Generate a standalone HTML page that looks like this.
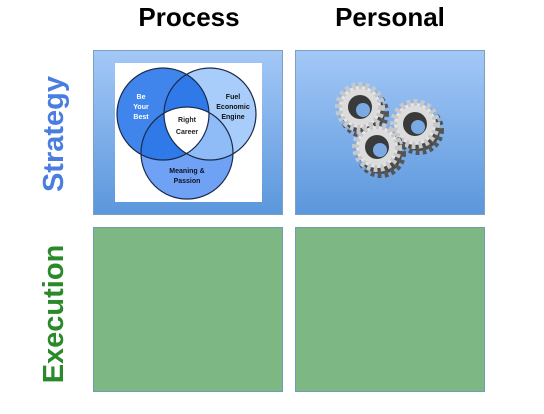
<!DOCTYPE html>
<html><head><meta charset="utf-8"><style>
body{margin:0;width:544px;height:410px;background:#fff;position:relative;overflow:hidden;font-family:"Liberation Sans",sans-serif}
.h{position:absolute;top:2px;font-size:26px;font-weight:bold;color:#000;text-align:center;width:200px}
.v{position:absolute;font-size:29px;font-weight:bold;transform:rotate(-90deg);transform-origin:center;text-align:center;width:200px;height:36px;line-height:36px}
.b{position:absolute;width:190px;height:165px;box-sizing:border-box;border:1px solid #7f9fbf}
.blue{background:linear-gradient(#a3c8f7,#5b97dc);}
.green{background:#7db783;border-color:#6f9fb0}
</style></head><body>
<div class="h" style="left:89px">Process</div>
<div class="h" style="left:290px">Personal</div>
<div class="v" style="left:-46px;top:116px;color:#4a7de0">Strategy</div>
<div class="v" style="left:-46px;top:296px;color:#2a8a2a">Execution</div>
<div class="b blue" style="left:93px;top:50px"></div>
<div class="b blue" style="left:295px;top:50px"></div>
<div class="b green" style="left:93px;top:227px"></div>
<div class="b green" style="left:295px;top:227px"></div>
<svg width="544" height="410" style="position:absolute;left:0;top:0">
<defs>
<clipPath id="cl"><circle cx="163" cy="114" r="46"/></clipPath>
<clipPath id="cr"><circle cx="210" cy="114" r="46"/></clipPath>
<g id="gear">
<circle cx="4" cy="6" r="21" fill="#4a4a4a" stroke="#555" stroke-width="8" stroke-dasharray="3.5 3"/>
<circle r="21" fill="#e6e6e6" stroke="#c8c8c8" stroke-width="8" stroke-dasharray="3.5 3"/>
<circle r="18" fill="#dcdcdc"/>
<circle r="12" fill="#3a3a3a"/>
<circle r="7" cx="3" cy="3" fill="#7aaae4"/></g>
</defs>
<rect x="115" y="63" width="147" height="139" fill="#fff"/>
<circle cx="163" cy="114" r="46" fill="#3f85ec"/>
<circle cx="210" cy="114" r="46" fill="#a9cdfa"/>
<circle cx="187" cy="153" r="46" fill="#6fa2f5"/>
<circle cx="210" cy="114" r="46" fill="#2f7ae8" clip-path="url(#cl)"/>
<circle cx="187" cy="153" r="46" fill="#2f7ae8" clip-path="url(#cl)"/>
<circle cx="187" cy="153" r="46" fill="#8fbcf6" clip-path="url(#cr)"/>
<g clip-path="url(#cl)"><g clip-path="url(#cr)"><circle cx="187" cy="153" r="46" fill="#fff"/></g></g>
<g fill="none" stroke="#1a2a4a" stroke-width="1.2">
<circle cx="163" cy="114" r="46"/><circle cx="210" cy="114" r="46"/><circle cx="187" cy="153" r="46"/></g>
<g font-family="Liberation Sans" font-size="7" font-weight="bold" text-anchor="middle">
<text x="141" y="99" fill="#fff">Be</text><text x="141" y="109" fill="#fff">Your</text><text x="141" y="119" fill="#fff">Best</text>
<text x="233" y="99" fill="#111">Fuel</text><text x="233" y="109" fill="#111">Economic</text><text x="233" y="119" fill="#111">Engine</text>
<text x="187" y="122" fill="#222">Right</text><text x="187" y="134" fill="#222">Career</text>
<text x="187" y="173" fill="#112">Meaning &amp;</text><text x="187" y="183" fill="#112">Passion</text>
</g>
<use href="#gear" x="360" y="107"/>
<use href="#gear" x="415" y="124"/>
<use href="#gear" x="377" y="147"/>
</svg>
</body></html>
